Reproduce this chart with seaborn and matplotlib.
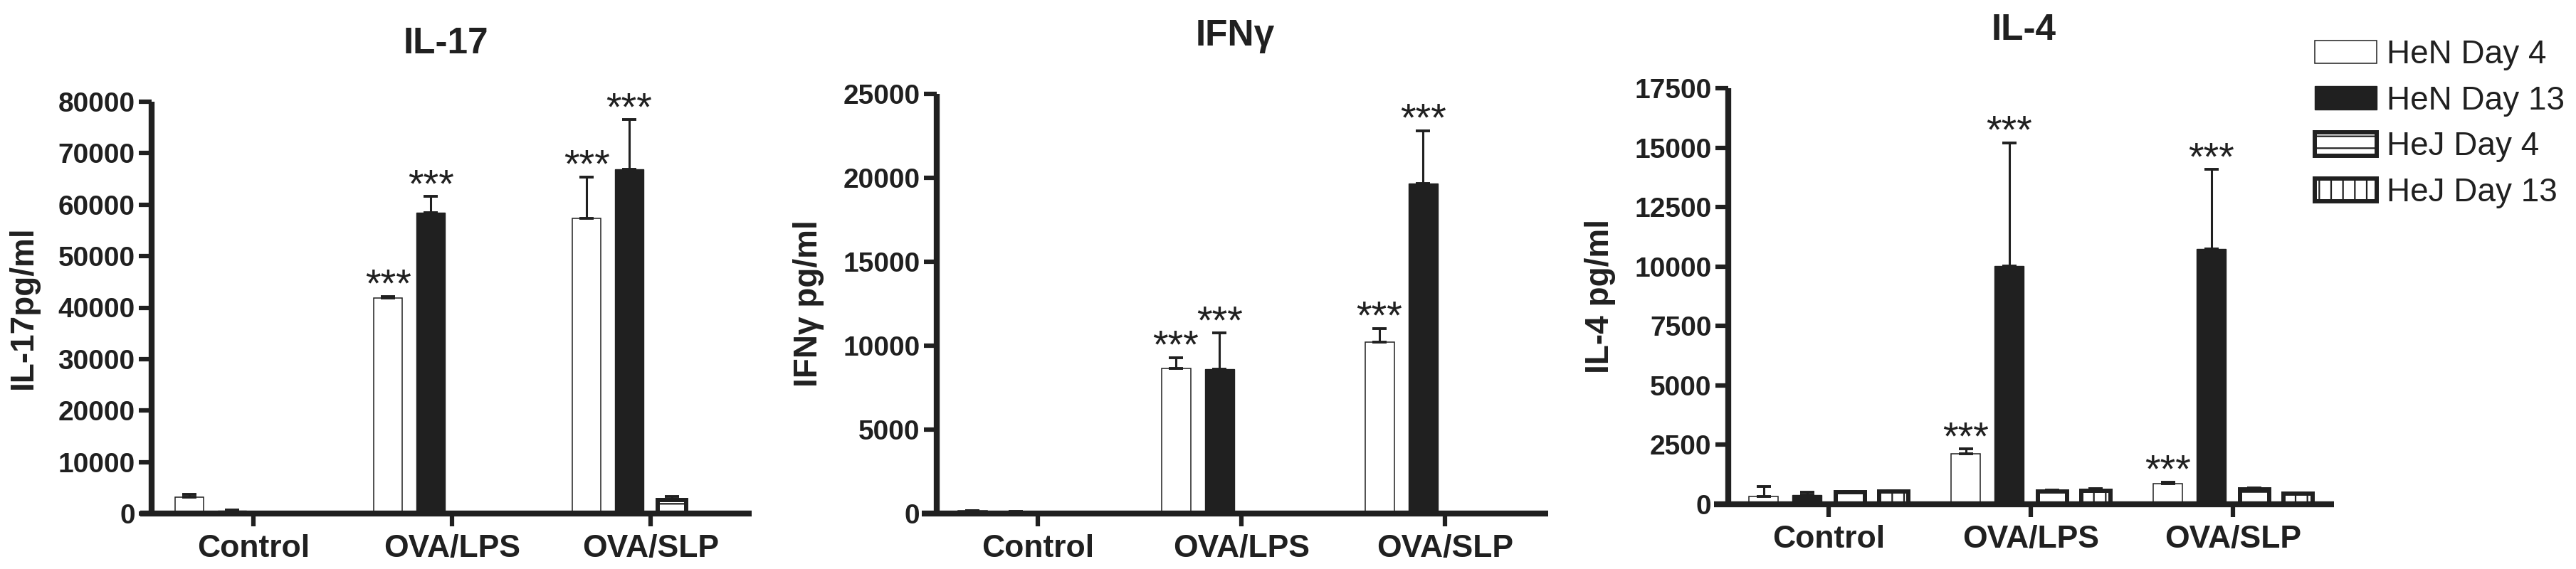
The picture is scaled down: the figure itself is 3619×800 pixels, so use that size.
import pandas as pd
import matplotlib
matplotlib.use("Agg")
import matplotlib.pyplot as plt
import matplotlib.ticker as ticker
from matplotlib.patches import Patch
import seaborn as sns

# ---- data ----
groups = ["Control", "OVA/LPS", "OVA/SLP"]
series = ["HeN Day 4", "HeN Day 13", "HeJ Day 4", "HeJ Day 13"]

# one list per series, values per group (pg/ml); err = upper SEM
il17_means = [[3200, 41900, 57400], [600, 58400, 66900], [0, 0, 2600], [0, 0, 0]]
il17_errs = [[500, 300, 8000], [150, 3200, 9600], [0, 0, 700], [0, 0, 0]]
il17_stars = [[0, 1, 1], [0, 1, 1], [0, 0, 0], [0, 0, 0]]

ifng_means = [[150, 8640, 10230], [100, 8600, 19670], [0, 0, 0], [0, 0, 0]]
ifng_errs = [[30, 660, 800], [30, 2160, 3140], [0, 0, 0], [0, 0, 0]]
ifng_stars = [[0, 1, 1], [0, 1, 1], [0, 0, 0], [0, 0, 0]]

il4_means = [[330, 2130, 870], [380, 10030, 10740], [520, 540, 620], [540, 580, 460]]
il4_errs = [[430, 200, 70], [130, 5180, 3350], [30, 60, 60], [20, 80, 20]]
il4_stars = [[0, 1, 1], [0, 1, 1], [0, 0, 0], [0, 0, 0]]

DARK = "#202020"
W, H = 3619, 800

sns.set_theme(style="white")
plt.rcParams["font.family"] = ["Liberation Sans", "DejaVu Sans"]
plt.rcParams["text.color"] = DARK
plt.rcParams["axes.labelcolor"] = DARK
plt.rcParams["xtick.color"] = DARK
plt.rcParams["ytick.color"] = DARK
plt.rcParams["hatch.linewidth"] = 1.6
plt.rcParams["hatch.color"] = DARK

fig = plt.figure(figsize=(W / 100, H / 100), dpi=100)


def px_rect(left, right, top, bottom):
    return [left / W, 1 - bottom / H, (right - left) / W, (bottom - top) / H]


def long_frame(means):
    rows = []
    for s, vals in zip(series, means):
        for g, v in zip(groups, vals):
            rows.append({"group": g, "series": s, "value": v})
    return pd.DataFrame(rows)


def draw_panel(rect, means, errs, stars, title, ylabel, ymax, ystep, xlim, spine_pos):
    ax = fig.add_axes(rect)
    df = long_frame(means)
    sns.barplot(data=df, x="group", y="value", hue="series", order=groups,
                hue_order=series, width=0.857, gap=0.33, errorbar=None,
                saturation=1, legend=False, ax=ax)

    # Prism-like bar styles
    styles = [dict(fc="white", ec=DARK, lw=1.1, hatch=None),
              dict(fc=DARK, ec=DARK, lw=1.0, hatch=None),
              dict(fc="white", ec=DARK, lw=4.3, hatch="-"),
              dict(fc="white", ec=DARK, lw=4.3, hatch="|")]
    bar_containers = list(ax.containers)
    for i, cont in enumerate(bar_containers):
        st = styles[i]
        for j, bar in enumerate(cont):
            bar.set_facecolor(st["fc"])
            bar.set_edgecolor(st["ec"])
            bar.set_linewidth(st["lw"])
            if st["hatch"]:
                bar.set_hatch(st["hatch"])
            x = bar.get_x() + bar.get_width() / 2
            y = bar.get_height()
            e = errs[i][j]
            if e > 0:
                ax.errorbar(x, y, yerr=[[0], [e]], fmt="none", ecolor=DARK,
                            elinewidth=2.2, capsize=7, capthick=2.8, zorder=3)
            if stars[i][j]:
                ax.annotate("***", (x, y + e), xytext=(0, 0),
                            textcoords="offset points", ha="center",
                            va="baseline", fontsize=40, color=DARK)

    ax.set_xlim(*xlim)
    ax.set_ylim(0, ymax)
    ax.set_yticks(range(0, ymax + 1, ystep))
    ax.yaxis.set_major_formatter(ticker.StrMethodFormatter("{x:.0f}"))
    sns.despine(ax=ax)
    ax.spines["left"].set_position(("axes", spine_pos))
    for side in ["left", "bottom"]:
        ax.spines[side].set_linewidth(6)
        ax.spines[side].set_color(DARK)
        ax.spines[side].set_capstyle("butt")
    ax.tick_params(axis="y", length=13, width=4.5, pad=4, labelsize=28, left=True)
    ax.tick_params(axis="x", length=13, width=4.5, pad=8, labelsize=32, bottom=True)
    for lab in ax.get_yticklabels() + ax.get_xticklabels():
        lab.set_fontweight("bold")
    ax.set_xlabel("")
    ax.set_ylabel(ylabel, fontsize=33, fontweight="bold", labelpad=19)
    ax.set_title(title, fontsize=37, fontweight="bold", pad=49)
    return ax


draw_panel(px_rect(197, 1056, 143, 722), il17_means, il17_errs, il17_stars,
           "IL-17", "IL-17pg/ml", 80000, 10000, (-0.570, 2.509), 0.019)
draw_panel(px_rect(1295, 2175, 132, 722), ifng_means, ifng_errs, ifng_stars,
           "IFNγ", "IFNγ pg/ml", 25000, 5000, (-0.570, 2.507), 0.024)
draw_panel(px_rect(2408, 3279, 124, 709), il4_means, il4_errs, il4_stars,
           "IL-4", "IL-4 pg/ml", 17500, 2500, (-0.567, 2.500), 0.023)

handles = [Patch(facecolor="white", edgecolor=DARK, linewidth=1.1),
           Patch(facecolor=DARK, edgecolor=DARK, linewidth=1.0),
           Patch(facecolor="white", edgecolor=DARK, linewidth=4.3, hatch="-"),
           Patch(facecolor="white", edgecolor=DARK, linewidth=4.3, hatch="|")]
fig.legend(handles, series, loc="upper left", bbox_to_anchor=(3252 / W, 1 - 55 / H),
           frameon=False, fontsize=33, handlelength=1.9, handleheight=0.72,
           handletextpad=0.3, labelspacing=0.45, borderpad=0, borderaxespad=0)

fig.savefig("out.png", dpi=100, facecolor="white")
